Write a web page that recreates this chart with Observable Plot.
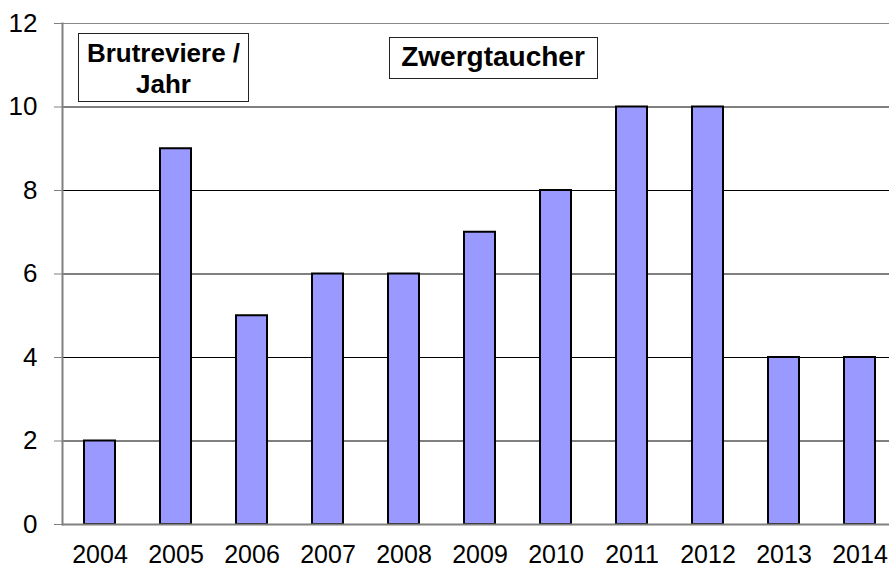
<!DOCTYPE html>
<html>
<head>
<meta charset="utf-8">
<script src="https://cdn.jsdelivr.net/npm/d3@7"></script>
<script src="https://cdn.jsdelivr.net/npm/@observablehq/plot@0.6"></script>
<style>
  html, body { margin: 0; padding: 0; background: #fff; overflow: hidden; }
  #chart svg { display: block; }
</style>
</head>
<body>
<div id="chart"></div>
<script>
const years = ["2004","2005","2006","2007","2008","2009","2010","2011","2012","2013","2014"];
const counts = [2, 9, 5, 6, 6, 7, 8, 10, 10, 4, 4];
const yTicks = [0, 2, 4, 6, 8, 10, 12];
const gridValues = [2, 4, 6, 8, 10, 12];
const titleText = "Zwergtaucher";
const unitLines = ["Brutreviere /", "Jahr"];

const data = years.map((y, i) => ({year: y, value: counts[i]}));
const font = "'Liberation Sans', Arial, sans-serif";

const plot = Plot.plot({
  width: 889,
  height: 569,
  marginTop: 23,
  marginBottom: 45,
  marginLeft: 62,
  marginRight: 0,
  style: {fontFamily: font, fontSize: "26px", color: "#000", background: "#fff"},
  x: {domain: years, range: [62, 898], paddingInner: 0.59, paddingOuter: 0.295},
  y: {domain: [0, 12], range: [524, 23]},
  marks: [
    Plot.ruleY(gridValues, {stroke: "#000", strokeWidth: 1}),
    Plot.ruleY([12], {stroke: "#888", strokeWidth: 1}),
    Plot.barY(data, {x: "year", y: "value", fill: "#9999ff", stroke: "#000", strokeWidth: 2}),
    Plot.ruleY([0], {stroke: "#808080", strokeWidth: 2}),
    Plot.frame({anchor: "left", stroke: "#808080", strokeWidth: 2}),
    Plot.axisY({ticks: yTicks, tickSize: 8, tickPadding: 17, tickFormat: d => String(d), stroke: "#808080", fill: "#000", fontSize: 26, label: null}),
    Plot.axisX({tickSize: 0, tickPadding: 21, fill: "#000", fontSize: 25, label: null})
  ]
});

document.getElementById("chart").appendChild(plot);

const svg = d3.select(plot);
// Annotation boxes
const g1 = svg.append("g");
g1.append("rect").attr("x", 78.5).attr("y", 33.5).attr("width", 170).attr("height", 68)
  .attr("fill", "#fff").attr("stroke", "#222").attr("stroke-width", 1);
unitLines.forEach((t, i) => {
  g1.append("text").attr("x", 163.5).attr("y", 61.5 + i * 31.7)
    .attr("text-anchor", "middle").attr("font-family", font).attr("font-weight", "bold")
    .attr("font-size", 26).attr("fill", "#000").text(t);
});
const g2 = svg.append("g");
g2.append("rect").attr("x", 389.5).attr("y", 37.5).attr("width", 208).attr("height", 41)
  .attr("fill", "#fff").attr("stroke", "#222").attr("stroke-width", 1);
g2.append("text").attr("x", 493).attr("y", 66.3)
  .attr("text-anchor", "middle").attr("font-family", font).attr("font-weight", "bold")
  .attr("font-size", 28).attr("fill", "#000").text(titleText);
</script>
</body>
</html>
